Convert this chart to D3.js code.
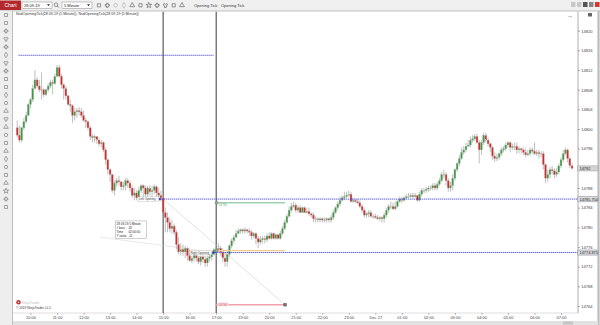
<!DOCTYPE html>
<html><head><meta charset="utf-8">
<script src="https://cdn.jsdelivr.net/npm/d3@7"></script>
<style>body{margin:0;background:#fff;overflow:hidden}svg{display:block;font-family:"Liberation Sans",Arial,sans-serif}</style>
</head><body><svg id="c" width="600" height="325"></svg>
<script>
// ---------- DATA ----------
const instrument = "28 09-19";
const period = "5 Minute";
const firstOpen = 14800.25;
const barStartHour = -0.5;      // session hours after 10:00
const barsPerHour = 12;
const closes = [
14798.75,14797.75,14800.25,14801.5,14802.75,14805.0,14806.0,14808.25,14810.0,14808.75,
14808.0,14808.0,14807.0,14808.0,14808.75,14809.5,14809.25,14810.75,14812.5,14810.75,
14809.0,14808.25,14806.75,14805.0,14804.75,14802.75,14803.5,14803.75,14803.5,14802.75,
14801.75,14801.5,14800.25,14798.5,14798.25,14798.5,14797.75,14797.0,14797.25,14795.75,
14793.75,14791.75,14790.75,14787.5,14789.0,14789.5,14789.25,14788.25,14788.5,14789.5,
14789.0,14788.0,14786.5,14787.0,14786.0,14787.5,14788.5,14788.0,14786.75,14788.0,
14787.25,14787.5,14788.25,14787.0,14786.5,14786.0,14783.0,14782.0,14781.0,14779.75,
14780.25,14779.0,14776.5,14775.0,14775.5,14775.0,14775.75,14774.25,14773.25,14773.75,
14774.25,14773.75,14773.0,14774.0,14773.5,14772.75,14773.75,14774.0,14774.5,14775.5,
14775.5,14775.75,14775.0,14773.75,14773.0,14774.5,14776.25,14777.25,14778.0,14778.75,
14779.25,14779.5,14779.25,14779.5,14779.25,14779.0,14778.25,14778.75,14777.75,14777.0,
14777.5,14777.75,14777.5,14778.25,14777.75,14778.75,14777.75,14778.5,14777.75,14778.75,
14779.75,14781.0,14782.25,14783.5,14784.25,14784.5,14783.5,14784.0,14783.0,14784.0,
14783.0,14783.25,14782.75,14782.5,14781.75,14781.75,14781.5,14781.75,14781.5,14781.5,
14781.75,14781.5,14782.0,14783.0,14784.0,14784.75,14785.5,14786.0,14786.25,14786.5,
14786.75,14785.25,14785.5,14785.25,14785.0,14784.25,14783.5,14782.5,14782.75,14783.0,
14782.25,14782.25,14782.0,14781.75,14782.0,14781.75,14782.5,14783.5,14784.25,14784.25,
14783.75,14784.25,14785.25,14785.75,14785.5,14786.0,14786.25,14786.25,14786.5,14786.25,
14786.5,14785.5,14786.75,14787.5,14787.5,14787.75,14788.0,14788.0,14788.5,14788.0,
14788.75,14789.5,14790.75,14790.75,14789.5,14788.0,14788.5,14790.0,14791.75,14793.0,
14794.0,14795.25,14795.75,14796.5,14796.75,14797.75,14798.0,14798.5,14797.25,14795.75,
14797.25,14798.75,14797.75,14797.0,14796.25,14794.5,14794.0,14794.25,14795.0,14795.75,
14796.0,14796.75,14797.25,14796.25,14796.5,14796.5,14795.75,14796.0,14795.75,14795.25,
14794.75,14795.0,14795.75,14795.5,14795.0,14795.25,14795.0,14795.0,14792.75,14790.0,
14790.75,14791.75,14791.5,14790.75,14791.25,14792.5,14793.75,14795.0,14795.75,14794.0,
14792.5,14792.0];
const highs = [
14801.75,14800.75,14800.5,14802.25,14803.5,14805.25,14806.25,14809.0,14812.0,14810.5,
14810.0,14811.5,14808.25,14808.25,14809.25,14810.0,14810.0,14811.25,14813.0,14813.0,
14811.25,14809.25,14808.75,14807.0,14806.0,14805.0,14804.25,14804.25,14804.5,14804.25,
14803.75,14802.25,14801.75,14800.75,14799.0,14798.75,14798.5,14798.25,14797.75,14797.5,
14796.25,14794.0,14792.0,14790.75,14789.5,14790.0,14790.5,14789.5,14789.25,14790.0,
14790.0,14789.5,14788.5,14788.0,14787.5,14788.25,14788.75,14788.75,14788.5,14788.5,
14788.5,14788.5,14788.75,14788.5,14788.0,14787.5,14786.25,14784.0,14783.0,14782.0,
14781.5,14780.75,14779.5,14778.0,14776.75,14776.5,14776.25,14776.0,14775.5,14774.25,
14774.5,14774.5,14774.25,14774.25,14774.5,14774.25,14774.25,14774.5,14775.0,14775.75,
14776.0,14776.75,14776.25,14775.75,14775.0,14775.5,14776.5,14777.75,14778.5,14779.5,
14779.75,14779.75,14779.75,14780.0,14779.75,14779.75,14779.5,14779.0,14779.0,14778.25,
14778.25,14778.25,14778.25,14778.75,14779.0,14779.0,14779.0,14778.75,14778.75,14779.25,
14780.25,14781.5,14782.75,14784.25,14785.0,14785.25,14785.0,14784.5,14784.5,14784.25,
14784.25,14784.0,14784.0,14783.0,14783.0,14782.25,14782.0,14782.0,14782.0,14782.0,
14782.0,14782.0,14782.5,14783.5,14784.25,14785.25,14786.25,14786.5,14787.25,14787.25,
14787.5,14787.25,14786.0,14785.75,14785.75,14785.5,14784.75,14784.0,14783.0,14783.5,
14783.5,14782.75,14782.75,14782.5,14782.25,14782.25,14783.0,14784.0,14784.75,14785.25,
14785.0,14785.25,14785.5,14786.25,14786.25,14786.25,14786.75,14787.0,14787.0,14787.0,
14787.0,14786.5,14787.25,14788.0,14788.0,14788.25,14788.5,14788.5,14789.0,14789.0,
14789.25,14790.0,14791.25,14791.75,14791.25,14790.0,14789.25,14790.75,14792.0,14793.25,
14794.75,14796.25,14796.5,14797.25,14797.75,14798.5,14798.75,14799.0,14799.0,14797.75,
14797.75,14799.25,14799.25,14798.25,14797.25,14796.5,14795.25,14795.0,14795.25,14796.25,
14796.5,14797.25,14797.5,14797.5,14797.0,14797.25,14797.25,14796.5,14796.25,14796.25,
14796.0,14795.75,14796.25,14796.25,14797.25,14795.75,14795.75,14795.5,14795.5,14793.0,
14791.75,14792.25,14792.5,14792.0,14792.0,14793.0,14794.25,14795.75,14796.25,14796.0,
14794.25,14793.0];
const lows = [
14798.25,14797.25,14797.25,14799.75,14801.0,14802.75,14804.25,14805.5,14808.0,14808.25,
14807.5,14806.0,14806.5,14806.75,14807.5,14808.25,14807.0,14809.0,14810.5,14810.5,
14808.25,14806.0,14806.0,14804.75,14803.5,14801.25,14801.75,14802.25,14802.75,14802.25,
14801.5,14800.25,14799.75,14797.75,14797.25,14797.25,14797.0,14796.5,14796.25,14795.25,
14792.75,14790.75,14789.25,14787.0,14786.5,14788.25,14788.5,14787.5,14787.5,14787.5,
14788.0,14787.25,14786.0,14785.5,14785.5,14785.25,14787.0,14786.25,14786.25,14786.25,
14786.5,14786.0,14786.75,14786.25,14785.5,14785.25,14782.75,14779.0,14779.0,14779.0,
14778.75,14778.5,14775.5,14774.5,14774.25,14774.25,14773.75,14773.25,14773.0,14772.75,
14773.0,14773.0,14772.5,14772.25,14772.75,14772.0,14772.0,14773.0,14773.25,14774.25,
14774.75,14775.0,14774.25,14773.0,14772.0,14772.0,14774.0,14775.75,14776.75,14777.75,
14778.75,14778.75,14778.75,14778.75,14778.75,14778.25,14777.5,14777.75,14776.5,14775.75,
14776.5,14776.75,14776.75,14777.0,14777.5,14777.5,14777.5,14777.5,14777.5,14777.5,
14778.5,14779.5,14780.75,14782.0,14783.0,14784.0,14783.0,14783.0,14783.0,14783.0,
14783.0,14782.75,14782.25,14782.0,14781.0,14781.0,14781.0,14781.0,14781.0,14781.0,
14781.0,14781.0,14781.0,14781.5,14782.75,14783.5,14784.25,14785.25,14785.5,14786.0,
14786.25,14785.0,14785.0,14785.0,14784.75,14784.0,14783.0,14782.0,14782.0,14782.0,
14782.0,14781.75,14781.75,14781.5,14781.25,14781.0,14781.0,14782.0,14783.0,14783.75,
14783.5,14783.5,14784.0,14785.0,14785.0,14785.25,14785.75,14786.0,14786.0,14786.0,
14786.0,14785.25,14785.25,14786.25,14787.0,14787.0,14787.25,14787.5,14787.5,14787.5,
14787.5,14788.5,14789.25,14790.0,14788.5,14787.25,14787.25,14787.5,14789.5,14791.25,
14792.5,14793.75,14794.75,14795.25,14796.25,14796.25,14797.25,14797.5,14797.0,14793.0,
14794.75,14796.75,14797.25,14796.5,14795.25,14793.75,14793.25,14793.5,14793.75,14794.5,
14795.25,14795.5,14796.25,14795.25,14795.75,14795.75,14795.0,14795.0,14795.0,14794.75,
14794.25,14794.5,14794.5,14795.0,14794.75,14794.5,14794.0,14794.25,14791.75,14789.0,
14789.25,14790.0,14790.75,14790.0,14790.25,14790.75,14792.0,14793.25,14794.75,14793.25,
14792.0,14791.75];
const priceTicks = [14820,14816,14812,14808,14804,14800,14796,14792,14788,14784,14780,14776,14772,14768,14764];
const timeTickHours = [0,1,2,3,4,5,6,7,8,9,10,11,12,13,14,15,16,17,18,19,20];
const timeTickLabels = ["10:00","11:00","12:00","13:00","14:00","15:00","16:00","17:00","19:00","20:00","21:00","22:00","23:00","Dec 27","01:00","02:00","03:00","04:00","05:00","06:00","07:00"];
const leftOpenHour = 5, rightOpenHour = 7, projEndHour = 9.6;
const leftOpenPrice = 14785.75, rightOpenPrice = 14774.875;
const priorLevel = 14815.0, priorLevelHours = [-0.45, 6.9];
const targetPrice = 14785.0, entryPrice = 14775.25, stopPrice = 14764.25;
const tooltipRows = [["28 09-19 5 Minute",""],["# bars","24"],["Time","02:00:00"],["Y value","-11"]];

// ---------- DRAW ----------
const svg = d3.select('#c');
const P = {l:13, r:578, t:11.5, b:313};
const x = d3.scaleLinear().domain([0,20]).range([30.5,561]);
const y = d3.scaleLinear().domain([14764,14820]).range([306,30.7]);

svg.append('rect').attr('width',600).attr('height',325).attr('fill','#d6d6d6');
// top toolbar
svg.append('rect').attr('x',0).attr('y',0).attr('width',600).attr('height',11).attr('fill','#f0f0f0');
svg.append('line').attr('x1',0).attr('x2',600).attr('y1',11).attr('y2',11).attr('stroke','#9a9a9a').attr('stroke-width',0.6);
svg.append('rect').attr('x',0).attr('y',0.5).attr('width',21).attr('height',9.5).attr('fill','#b3282d');
svg.append('text').attr('x',10.5).attr('y',7.3).attr('text-anchor','middle').attr('font-size',5).attr('fill','#fff').text('Chart');
function dropdown(x0,w,label){
  svg.append('rect').attr('x',x0).attr('y',2).attr('width',w).attr('height',6.5).attr('fill','#fff').attr('stroke','#8a8a8a').attr('stroke-width',0.5);
  svg.append('text').attr('x',x0+2).attr('y',6.8).attr('font-size',4).attr('fill','#222').text(label);
  svg.append('path').attr('d',`M${x0+w-5},4.2 l3,0 l-1.5,2 z`).attr('fill','#333');
}
dropdown(22,30,instrument);
svg.append('circle').attr('cx',56).attr('cy',4.7).attr('r',1.8).attr('fill','none').attr('stroke','#555').attr('stroke-width',0.6);
svg.append('line').attr('x1',57.3).attr('y1',6).attr('x2',58.8).attr('y2',7.6).attr('stroke','#555').attr('stroke-width',0.7);
dropdown(62,30,period);
const tbSyms = [d3.symbolSquare,d3.symbolCross,d3.symbolCircle,d3.symbolDiamond,d3.symbolTriangle,d3.symbolSquare,d3.symbolStar,d3.symbolCross,d3.symbolWye,d3.symbolSquare,d3.symbolTriangle];
tbSyms.forEach((s,i)=>{
  svg.append('path').attr('d',d3.symbol(s,10)()).attr('transform',`translate(${99+i*8.3},5.3)`)
    .attr('fill','none').attr('stroke',i===2||i===3?'#aaa':'#555').attr('stroke-width',0.6);
});
svg.append('text').attr('x',194).attr('y',6.8).attr('font-size',4).attr('fill','#333').text('Opening Tick');
svg.append('text').attr('x',221).attr('y',6.8).attr('font-size',4).attr('fill','#333').text('Opening Tick');
[[571,'#c8c8c8'],[577,'#c8c8c8'],[583,'#555'],[589,'#888'],[595,'#d33']].forEach(([bx,c])=>{
  svg.append('rect').attr('x',bx).attr('y',2).attr('width',4.5).attr('height',5).attr('fill',c);
});

// left tool column
svg.append('rect').attr('x',0).attr('y',11).attr('width',12.5).attr('height',314).attr('fill','#eeeeee');
svg.append('line').attr('x1',12.5).attr('x2',12.5).attr('y1',11).attr('y2',325).attr('stroke','#a8a8a8').attr('stroke-width',0.6);
const leftSyms = [d3.symbolSquare,d3.symbolSquare,d3.symbolCross,d3.symbolWye,d3.symbolCross,d3.symbolDiamond,d3.symbolWye,d3.symbolCross,d3.symbolSquare,d3.symbolSquare,d3.symbolDiamond,d3.symbolCircle,d3.symbolTriangle,d3.symbolWye,d3.symbolTriangle,d3.symbolCircle,d3.symbolSquare,d3.symbolTriangle,d3.symbolDiamond,d3.symbolCircle,d3.symbolSquare,d3.symbolTriangle,d3.symbolStar,d3.symbolCross,d3.symbolSquare];
leftSyms.forEach((s,i)=>{
  svg.append('path').attr('d',d3.symbol(s,9)()).attr('transform',`translate(6,${15+i*8})`)
    .attr('fill','none').attr('stroke','#666').attr('stroke-width',0.55);
});

// plot area
svg.append('rect').attr('x',P.l).attr('y',P.t).attr('width',P.r-P.l).attr('height',P.b-P.t).attr('fill','#fff');
svg.append('rect').attr('x',P.r).attr('y',P.t).attr('width',20).attr('height',P.b-P.t+8).attr('fill','#fff');
svg.append('rect').attr('x',P.l).attr('y',P.b).attr('width',P.r-P.l+20).attr('height',8).attr('fill','#fff');
svg.append('line').attr('x1',P.r).attr('x2',P.r).attr('y1',P.t).attr('y2',P.b).attr('stroke','#9a9a9a').attr('stroke-width',0.8);
svg.append('line').attr('x1',598).attr('x2',598).attr('y1',P.t).attr('y2',325).attr('stroke','#9a9a9a').attr('stroke-width',0.8);
svg.append('line').attr('x1',P.l).attr('x2',P.r).attr('y1',P.b).attr('y2',P.b).attr('stroke','#bcbcbc').attr('stroke-width',0.5);
svg.append('rect').attr('x',P.l).attr('y',321).attr('width',585).attr('height',4).attr('fill','#e2e2e2');
svg.append('rect').attr('x',563).attr('y',321.5).attr('width',10).attr('height',3).attr('fill','#c4c4c4');

svg.append('defs').append('clipPath').attr('id','clip').append('rect')
  .attr('x',P.l).attr('y',P.t).attr('width',P.r-P.l).attr('height',P.b-P.t);
const g = svg.append('g').attr('clip-path','url(#clip)');

g.append('text').attr('x',16).attr('y',15.3).attr('font-size',3.6).attr('fill','#333')
  .text(`NudOpeningTick(${instrument} (${period})), NudOpeningTick(${instrument} (${period}))`);
svg.append('text').attr('x',567).attr('y',18).attr('font-size',6).attr('fill','#333').text('\u2192');
svg.append('rect').attr('x',588).attr('y',13).attr('width',4).attr('height',3.5).attr('fill','#666');

g.append('line').attr('x1',x(priorLevelHours[0])).attr('x2',x(priorLevelHours[1])).attr('y1',y(priorLevel)).attr('y2',y(priorLevel))
  .attr('stroke','#3434c8').attr('stroke-width',0.9).attr('stroke-dasharray','1.2,0.8');

[leftOpenHour,rightOpenHour].forEach(h=>{
  g.append('line').attr('x1',x(h)).attr('x2',x(h)).attr('y1',P.t).attr('y2',P.b).attr('stroke','#3a3a3a').attr('stroke-width',1);
});

g.append('line').attr('x1',x(leftOpenHour)).attr('y1',y(leftOpenPrice)).attr('x2',x(projEndHour)).attr('y2',y(stopPrice))
  .attr('stroke','#c4c4c4').attr('stroke-width',0.5);
g.append('line').attr('x1',x(2.62)).attr('y1',y(14778)).attr('x2',x(rightOpenHour)).attr('y2',y(rightOpenPrice))
  .attr('stroke','#d2d2d2').attr('stroke-width',0.5);

const bars = closes.map((c,i)=>{
  const o = i ? closes[i-1] : firstOpen;
  return {t:barStartHour+i/barsPerHour, o, c, h:Math.max(highs[i],o,c), l:Math.min(lows[i],o,c)};
});
g.selectAll('line.wick').data(bars).join('line').attr('class','wick')
  .attr('x1',d=>x(d.t)).attr('x2',d=>x(d.t)).attr('y1',d=>y(d.h)).attr('y2',d=>y(d.l))
  .attr('stroke','#a4a4a4').attr('stroke-width',0.7);
g.selectAll('rect.body').data(bars).join('rect').attr('class','body')
  .attr('x',d=>x(d.t)-0.95).attr('width',1.9)
  .attr('y',d=>y(Math.max(d.o,d.c))).attr('height',d=>Math.max(0.9,Math.abs(y(d.o)-y(d.c))))
  .attr('fill',d=>d.c>d.o?'#3f9a43':d.c<d.o?'#cf2b2b':'#bdbdbd')
  .attr('stroke','#b8b8b8').attr('stroke-width',0.3);

[[leftOpenHour,leftOpenPrice],[rightOpenHour,rightOpenPrice]].forEach(([h,p])=>{
  g.append('line').attr('x1',x(h)-1).attr('x2',P.r).attr('y1',y(p)).attr('y2',y(p))
    .attr('stroke','#3434d8').attr('stroke-width',0.9).attr('stroke-dasharray','1.2,0.8');
  g.append('path').attr('d',`M${x(h)-4},${y(p)-1.4} L${x(h)-0.8},${y(p)} L${x(h)-4},${y(p)+1.4} Z`).attr('fill','#2a2ad0');
});
[[targetPrice,'#9ed2b2'],[entryPrice,'#f6c98c'],[stopPrice,'#f2a0ac']].forEach(([p,c])=>{
  g.append('line').attr('x1',x(rightOpenHour)).attr('x2',x(projEndHour)).attr('y1',y(p)).attr('y2',y(p))
    .attr('stroke',c).attr('stroke-width',1.3);
});
g.append('text').attr('x',x(rightOpenHour)+2.5).attr('y',y(targetPrice)+3).attr('font-size',3).attr('fill','#7a9f8a').text(targetPrice.toFixed(0));
g.append('rect').attr('x',x(rightOpenHour)+1.5).attr('y',y(stopPrice)-2.2).attr('width',11).attr('height',3.6).attr('fill','#fbd9de');
g.append('text').attr('x',x(rightOpenHour)+2.5).attr('y',y(stopPrice)+1).attr('font-size',3).attr('fill','#e0506a').text(stopPrice.toFixed(0));
[targetPrice,entryPrice].forEach(p=>{
  g.append('circle').attr('cx',x(rightOpenHour)+0.5).attr('cy',y(p)).attr('r',1.5).attr('fill','#aaa').attr('stroke','#555').attr('stroke-width',0.4);
});
g.append('rect').attr('x',x(projEndHour)-1.3).attr('y',y(stopPrice)-1.3).attr('width',2.6).attr('height',2.6).attr('fill','#777').attr('stroke','#333').attr('stroke-width',0.4);

[[leftOpenHour,leftOpenPrice,'Left Opening'],[rightOpenHour,rightOpenPrice,'Right Opening']].forEach(([h,p,t])=>{
  const w = t.length*1.55+2;
  g.append('rect').attr('x',x(h)-4.5-w).attr('y',y(p)-2.3).attr('width',w).attr('height',4.4).attr('fill','#fff').attr('stroke','#999').attr('stroke-width',0.3);
  g.append('text').attr('x',x(h)-3.5-w).attr('y',y(p)+1).attr('font-size',2.9).attr('fill','#333').text(t);
});

const tx = x(3.2), ty = y(14781.3);
g.append('rect').attr('x',tx).attr('y',ty).attr('width',31).attr('height',17.5).attr('fill','#fff').attr('stroke','#888').attr('stroke-width',0.4);
tooltipRows.forEach((r,i)=>{
  g.append('text').attr('x',tx+1.2).attr('y',ty+4+i*4).attr('font-size',3).attr('fill','#222').text(r[0]);
  g.append('text').attr('x',tx+13).attr('y',ty+4+i*4).attr('font-size',3).attr('fill','#222').text(r[1]);
});

g.append('circle').attr('cx',18.5).attr('cy',302.3).attr('r',2.2).attr('fill','#c1272d');
g.append('circle').attr('cx',18.5).attr('cy',302.3).attr('r',0.8).attr('fill','#fff');
g.append('text').attr('x',22).attr('y',303.6).attr('font-size',3.4).attr('fill','#c0c0c0').text('NinjaTrader');
g.append('text').attr('x',16).attr('y',308.6).attr('font-size',3.2).attr('fill','#333').text('\u00a9 2019 NinjaTrader, LLC');

// axes
const lastClose = closes[closes.length-1];
const tags = [[lastClose,lastClose.toFixed(0),'#d4d4d4','#888'],[leftOpenPrice,leftOpenPrice.toFixed(3),'#dcdcdc','#6a6a9a'],[rightOpenPrice,rightOpenPrice.toFixed(3),'#dcdcdc','#6a6a9a']];
const ya = svg.append('g').attr('transform',`translate(${P.r},0)`)
  .call(d3.axisRight(y).tickValues(priceTicks).tickSize(2).tickPadding(1.2).tickFormat(d3.format('d')));
ya.select('.domain').remove();
ya.selectAll('line').attr('stroke','#666').attr('stroke-width',0.5);
ya.selectAll('text').attr('font-size',4.1).attr('fill','#444').attr('font-family','Liberation Sans, Arial, sans-serif')
  .style('display',d=>tags.some(t=>Math.abs(y(t[0])-y(d))<5.5)?'none':null);

const xa = svg.append('g').attr('transform',`translate(0,${P.b})`)
  .call(d3.axisBottom(x).tickValues(timeTickHours).tickSize(1.8).tickPadding(1).tickFormat((d,i)=>timeTickLabels[i]));
xa.select('.domain').remove();
xa.selectAll('line').attr('stroke','#666').attr('stroke-width',0.5);
xa.selectAll('text').attr('font-size',4).attr('fill','#444').attr('font-family','Liberation Sans, Arial, sans-serif');

tags.forEach(([p,t,f,s])=>{
  svg.append('rect').attr('x',P.r-0.5).attr('y',y(p)-2.6).attr('width',20.5).attr('height',5.2).attr('rx',0.8).attr('fill',f).attr('stroke',s).attr('stroke-width',0.4);
  svg.append('text').attr('x',P.r+1.5).attr('y',y(p)+1.5).attr('font-size',3.9).attr('fill','#222').text(t);
});
</script></body></html>
